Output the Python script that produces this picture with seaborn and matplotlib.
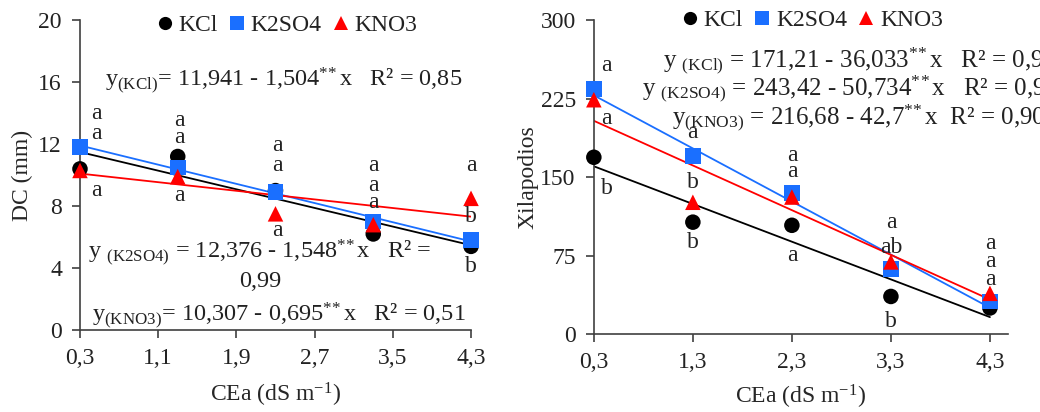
import numpy as np
import pandas as pd
import matplotlib.pyplot as plt
import seaborn as sns

# CEa levels (dS m-1) and salt sources
cea = [0.3, 1.3, 2.3, 3.3, 4.3]
salts = ["KCl", "K2SO4", "KNO3"]

# stem diameter DC (mm)
dc_kcl = [10.4, 11.2, 9.0, 6.2, 5.4]
dc_k2so4 = [11.8, 10.5, 8.9, 7.0, 5.8]
dc_kno3 = [10.3, 9.9, 7.5, 6.8, 8.5]

# number of xylopodia
xil_kcl = [169, 107, 104, 36, 25]
xil_k2so4 = [234, 170, 135, 62, 31]
xil_kno3 = [224, 126, 131, 69, 39]

# fitted lines y = b0 + b1*x (KCl, K2SO4, KNO3)
dc_b0 = [11.941, 12.376, 10.307]
dc_b1 = [-1.504, -1.548, -0.695]
xil_b0 = [171.21, 243.42, 216.68]
xil_b1 = [-36.033, -50.734, -42.7]

# mean comparison letters
dc_let_x = [0.47] * 3 + [1.32] * 3 + [2.32] * 3 + [3.3] * 3 + [4.3] * 3
dc_let_y = [14.0, 12.7, 9.0, 13.5, 12.4, 8.7, 11.9, 10.6, 6.45, 10.6, 9.35, 8.2, 10.6, 7.3, 4.1]
dc_let_t = ["a", "a", "a", "a", "a", "a", "a", "a", "a", "a", "a", "a", "a", "b", "b"]
xil_let_x = [0.43] * 3 + [1.3] * 3 + [2.3] * 3 + [3.3] * 3 + [4.3] * 3
xil_let_y = [257, 206, 139, 193, 145, 88, 171, 155, 75, 107, 83, 12, 87, 69, 52]
xil_let_t = ["a", "a", "b", "a", "b", "b", "a", "a", "a", "a", "ab", "b", "a", "a", "a"]

colors = {"KCl": "black", "K2SO4": "#1a6fff", "KNO3": "#ff0000"}
markers = {"KCl": "o", "K2SO4": "s", "KNO3": "^"}

sns.set_style("white")
plt.rcParams['font.family'] = ['Liberation Serif', 'DejaVu Serif']
plt.rcParams['mathtext.fontset'] = 'custom'
plt.rcParams['mathtext.rm'] = 'Liberation Serif'
plt.rcParams['mathtext.it'] = 'Liberation Serif:italic'
plt.rcParams['axes.edgecolor'] = '#404040'
plt.rcParams['xtick.color'] = '#404040'
plt.rcParams['ytick.color'] = '#404040'
plt.rcParams['xtick.labelcolor'] = '#222222'
plt.rcParams['ytick.labelcolor'] = '#222222'
plt.rcParams['text.color'] = '#222222'

STARS = "$^{\\mathrm{*\\!*}}$"


def long_table(col, series, b0, b1):
    pts = pd.DataFrame({"CEa": cea * 3, col: sum(series, []),
                        "salt": np.repeat(salts, len(cea))})
    lo, hi = min(cea), max(cea)
    fit = pd.DataFrame({"CEa": [lo, hi] * 3,
                        "fit": [b0[i] + b1[i] * x for i in range(3) for x in (lo, hi)],
                        "salt": np.repeat(salts, 2)})
    return pts, fit


def draw(ax, col, series, b0, b1, leg_xy):
    pts, fit = long_table(col, series, b0, b1)
    sns.lineplot(data=fit, x="CEa", y="fit", hue="salt", palette=colors,
                 linewidth=1.3, legend=False, ax=ax, zorder=2)
    sns.scatterplot(data=pts, x="CEa", y=col, hue="salt", style="salt",
                    palette=colors, markers=markers, s=125, linewidth=0,
                    ax=ax, zorder=3, clip_on=False)
    sns.despine(ax=ax)
    for sp in ax.spines.values():
        sp.set_linewidth(1.2)
    ax.tick_params(axis="both", labelsize=17, length=6, width=1.2, pad=7,
                   direction="out", bottom=True, left=True)
    handles, labels = ax.get_legend_handles_labels()
    leg = ax.legend(handles, labels, loc="center", bbox_to_anchor=leg_xy, ncol=3,
                    frameon=False, fontsize=17, handlelength=0.75, handletextpad=0.2,
                    columnspacing=0.45, borderaxespad=0)
    for h in leg.legend_handles:
        h.set_markersize(9.5)


fig = plt.figure(figsize=(10.4, 4.12), dpi=100)
ax1 = fig.add_axes([0.0769, 0.199, 0.376, 0.752])
ax2 = fig.add_axes([0.571, 0.189, 0.398, 0.762])

# left panel: DC
draw(ax1, "DC", [dc_kcl, dc_k2so4, dc_kno3], dc_b0, dc_b1, (0.529, 0.984))
ax1.set_xlim(0.3, 4.3)
ax1.set_ylim(0, 20)
ax1.set_xticks([0.3, 1.1, 1.9, 2.7, 3.5, 4.3])
ax1.set_xticklabels(["0,3", "1,1", "1,9", "2,7", "3,5", "4,3"])
ax1.set_yticks([0, 4, 8, 12, 16, 20])
ax1.set_xlabel("CEa (dS m$^{\\mathrm{-1}}$)", fontsize=17, va="center")
ax1.xaxis.set_label_coords(0.5, -0.21)
ax1.set_ylabel("DC (mm)", fontsize=17, va="center")
ax1.yaxis.set_label_coords(-0.146, 0.5)
for x, y, t in zip(dc_let_x, dc_let_y, dc_let_t):
    ax1.text(x, y, t, ha="center", va="center", fontsize=17)
ax1.text(0.556, 15.74, "y$_{\\mathrm{(KCl)}}$= 11,941 - 1,504" + STARS + "x   R² = 0,85",
         ha="left", va="baseline", fontsize=17.5)
ax1.text(2.14, 4.63, "y $_{\\mathrm{(K2SO4)}}$ = 12,376 - 1,548" + STARS + "x   R² =",
         ha="center", va="baseline", fontsize=17.5)
ax1.text(2.14, 2.8, "0,99", ha="center", va="baseline", fontsize=17.5)
ax1.text(0.42, 0.54, "y$_{\\mathrm{(KNO3)}}$= 10,307 - 0,695" + STARS + "x   R² = 0,51",
         ha="left", va="baseline", fontsize=17.5)

# right panel: xylopodia
draw(ax2, "Xil", [xil_kcl, xil_k2so4, xil_kno3], xil_b0, xil_b1, (0.527, 1.0))
ax2.set_xlim(0.3, 4.48)
ax2.set_ylim(0, 300)
ax2.set_xticks(cea)
ax2.set_xticklabels(["0,3", "1,3", "2,3", "3,3", "4,3"])
ax2.set_yticks([0, 75, 150, 225, 300])
ax2.set_xlabel("CEa (dS m$^{\\mathrm{-1}}$)", fontsize=17, va="center")
ax2.xaxis.set_label_coords(0.5, -0.2)
ax2.set_ylabel("Xilapodios", fontsize=17, va="center")
ax2.yaxis.set_label_coords(-0.16, 0.5)
for x, y, t in zip(xil_let_x, xil_let_y, xil_let_t):
    ax2.text(x, y, t, ha="center", va="center", fontsize=17)
ax2.text(0.997, 255.3, "y $_{\\mathrm{(KCl)}}$ = 171,21 - 36,033" + STARS + "x   R² = 0,93",
         ha="left", va="baseline", fontsize=18)
ax2.text(0.785, 228.3, "y $_{\\mathrm{(K2SO4)}}$ = 243,42 - 50,734" + STARS + "x   R² = 0,98",
         ha="left", va="baseline", fontsize=18)
ax2.text(1.088, 201.2, "y$_{\\mathrm{(KNO3)}}$ = 216,68 - 42,7" + STARS + "x  R² = 0,90",
         ha="left", va="baseline", fontsize=18)

fig.savefig("out.png", dpi=100)
